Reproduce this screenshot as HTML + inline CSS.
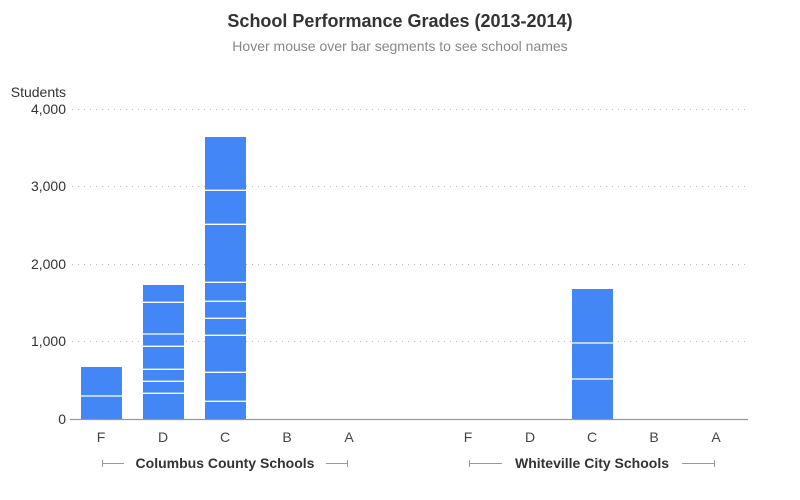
<!DOCTYPE html>
<html><head><style>body{margin:0;background:#fff}svg{display:block}text{font-family:"Liberation Sans",sans-serif}</style></head><body>
<svg width="800" height="500" xmlns="http://www.w3.org/2000/svg">
<text x="400" y="27" text-anchor="middle" font-size="18" font-weight="bold" fill="#333">School Performance Grades (2013-2014)</text>
<text x="400" y="51" text-anchor="middle" font-size="14" fill="#888">Hover mouse over bar segments to see school names</text>
<text x="66" y="97" text-anchor="end" font-size="14" fill="#333">Students</text>
<g stroke="#bbb" stroke-dasharray="1,5" stroke-width="1">
<line x1="72" x2="748" y1="109.5" y2="109.5"/><line x1="72" x2="748" y1="186.5" y2="186.5"/><line x1="72" x2="748" y1="264.5" y2="264.5"/><line x1="72" x2="748" y1="341.5" y2="341.5"/></g>
<g font-size="14" fill="#333" text-anchor="end">
<text x="66" y="114">4,000</text><text x="66" y="191">3,000</text><text x="66" y="269">2,000</text><text x="66" y="346">1,000</text><text x="66" y="424">0</text></g>
<g fill="#4287f5">
<rect x="81" y="367" width="41" height="52"/>
<rect x="143" y="285" width="41" height="134"/>
<rect x="205" y="137" width="41" height="282"/>
<rect x="572" y="289" width="41" height="130"/>
</g>
<g stroke="#fff" stroke-width="1.3">
<line x1="81" x2="122" y1="396" y2="396"/>
<line x1="143" x2="184" y1="302.3" y2="302.3"/><line x1="143" x2="184" y1="334" y2="334"/><line x1="143" x2="184" y1="346.3" y2="346.3"/><line x1="143" x2="184" y1="369.3" y2="369.3"/><line x1="143" x2="184" y1="381.3" y2="381.3"/><line x1="143" x2="184" y1="393.3" y2="393.3"/>
<line x1="205" x2="246" y1="190.3" y2="190.3"/><line x1="205" x2="246" y1="224.3" y2="224.3"/><line x1="205" x2="246" y1="282.3" y2="282.3"/><line x1="205" x2="246" y1="301.3" y2="301.3"/><line x1="205" x2="246" y1="318.3" y2="318.3"/><line x1="205" x2="246" y1="335.3" y2="335.3"/><line x1="205" x2="246" y1="372.3" y2="372.3"/><line x1="205" x2="246" y1="401.3" y2="401.3"/>
<line x1="572" x2="613" y1="343" y2="343"/><line x1="572" x2="613" y1="379" y2="379"/>
</g>
<line x1="70" x2="748" y1="419.5" y2="419.5" stroke="#999" stroke-width="1.3"/>
<g font-size="14" fill="#444" text-anchor="middle">
<text x="101" y="442">F</text><text x="163" y="442">D</text><text x="225" y="442">C</text><text x="287" y="442">B</text><text x="349" y="442">A</text>
<text x="468" y="442">F</text><text x="530" y="442">D</text><text x="592" y="442">C</text><text x="654" y="442">B</text><text x="716" y="442">A</text></g>
<g stroke="#999" stroke-width="1">
<line x1="102" x2="124" y1="463.5" y2="463.5"/><line x1="102.5" x2="102.5" y1="460" y2="467"/>
<line x1="326" x2="348" y1="463.5" y2="463.5"/><line x1="347.5" x2="347.5" y1="460" y2="467"/>
<line x1="469" x2="502" y1="463.5" y2="463.5"/><line x1="469.5" x2="469.5" y1="460" y2="467"/>
<line x1="682" x2="715" y1="463.5" y2="463.5"/><line x1="714.5" x2="714.5" y1="460" y2="467"/>
</g>
<g font-size="14" font-weight="bold" fill="#333" text-anchor="middle">
<text x="225" y="468">Columbus County Schools</text><text x="592" y="468">Whiteville City Schools</text></g>
</svg>
</body></html>
